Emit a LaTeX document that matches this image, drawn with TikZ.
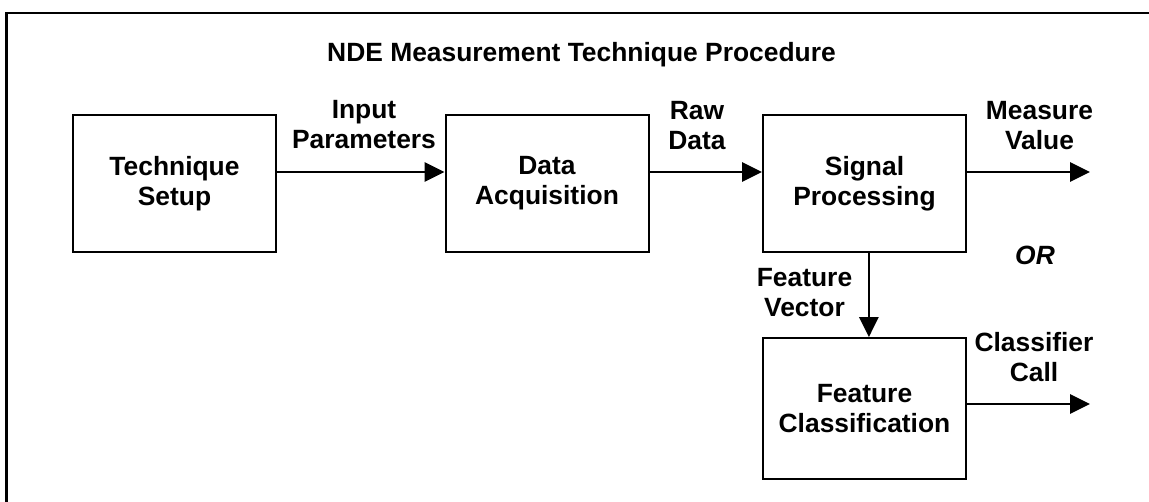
\documentclass[tikz,border=0pt]{standalone}
\usepackage{fontspec}
\setmainfont{Liberation Sans}
\usetikzlibrary{arrows.meta}
\begin{document}
\begin{tikzpicture}[x=0.75pt,y=-0.75pt,
  lbl/.style={font=\fontsize{19.8}{22.5}\selectfont\bfseries, align=center, inner sep=0pt},
  box/.style={lbl, draw, line width=1.5pt, minimum width=152.25pt, minimum height=102.75pt},
  arr/.style={line width=1.5pt, -{Triangle[length=15pt,width=14.5pt]}}]
\useasboundingbox (0,0) rectangle (1149,502);
\draw[line width=2pt] (1149,13) -- (6.5,13) -- (6.5,502);
\node[lbl, anchor=base] (title) at (581.5,62) {NDE Measurement Technique Procedure};
\node[box] (ts) at (174.5,183.5) {Technique\\Setup};
\node[box] (da) at (547,183.5) {Data\\Acquisition};
\node[box] (sp) at (864.5,183.5) {Signal\\Processing};
\node[box, minimum height=105.75pt] (fc) at (864.5,408.5) {Feature\\Classification};
\coordinate (mv) at (1090,172);
\coordinate (cc) at (1090,404);
\draw[arr] ([yshift=8.625pt]ts.east) -- ([yshift=8.625pt]da.west);
\draw[arr] ([yshift=8.625pt]da.east) -- ([yshift=8.625pt]sp.west);
\draw[arr] ([yshift=8.625pt]sp.east) -- (mv);
\draw[arr] ([xshift=3.3pt]sp.south) -- ([xshift=3.3pt]fc.north);
\draw[arr] ([yshift=3.375pt]fc.east) -- (cc);
\node[lbl] (ip) at (364,125) {Input\\Parameters};
\node[lbl] (rd) at (697,126) {Raw\\Data};
\node[lbl] (mvl) at (1039.5,126) {Measure\\Value};
\node[lbl] (fv) at (804.5,292.5) {Feature\\Vector};
\node[lbl, font=\fontsize{19.8}{22.5}\selectfont\bfseries\itshape] (or) at (1035,255.5) {OR};
\node[lbl] (ccl) at (1034,357) {Classifier\\Call};
\end{tikzpicture}
\end{document}
